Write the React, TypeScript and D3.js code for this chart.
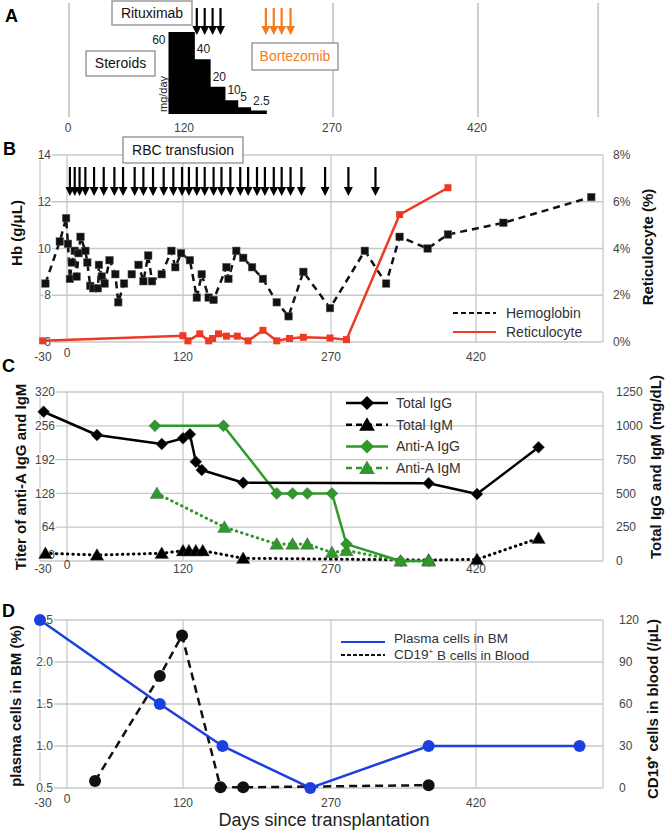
import React, { useEffect, useRef } from 'react';
import * as d3 from 'd3';

const FONT = 'Liberation Sans, Arial, Helvetica, sans-serif';
const GRID = '#c8c8c8';
const GREEN = '#2e9a2a';
const RED = '#ee3a24';
const BLUE = '#1c3fe0';
const ORANGE = '#f47b20';

// shared day axis
const dayTicks = [-30, 0, 120, 270, 420];
const dayGrid = [0, 120, 270, 420];

// A: treatment
const steroidStart = [105, 132, 148, 163, 176, 189];
const steroidEnd = 205;
const steroidDose = [60, 40, 20, 10, 5, 2.5];
const rituximabDays = [134, 142, 150, 158];
const bortezomibDays = [204, 212, 220, 229];

// B: Hb and reticulocytes
const rbcDays = [3, 8, 13, 19, 28, 38, 49, 58, 70, 79, 89, 100, 110, 119, 126, 134, 142, 151, 159, 168, 178, 186, 195, 203, 212, 220, 229, 240, 264, 288, 316];
const hbDays = [-24, -8, -1, 1, 3, 5, 8, 10, 12, 14, 19, 21, 24, 27, 32, 33, 36, 39, 44, 50, 53, 59, 67, 74, 79, 84, 88, 98, 108, 112, 118, 127, 134, 139, 146, 151, 164, 166, 174, 181, 190, 201, 215, 227, 242, 269, 305, 327, 341, 370, 391, 448, 538];
const hbValues = [8.5, 10.3, 11.3, 10.2, 8.7, 9.4, 9.9, 8.8, 9.8, 10.5, 9.9, 9.4, 8.4, 8.3, 8.3, 9.3, 8.8, 8.5, 9.5, 8.9, 7.7, 8.5, 8.9, 9.3, 8.6, 9.7, 8.6, 8.9, 9.9, 9.2, 9.8, 9.5, 7.9, 8.9, 7.9, 7.8, 9.2, 8.7, 9.9, 9.6, 9.2, 8.7, 7.7, 7.1, 9.0, 7.45, 9.9, 8.5, 10.5, 10.0, 10.6, 11.1, 12.2];
const retDays = [-27, 120, 125, 137, 146, 150, 156, 164, 175, 186, 201, 215, 228, 242, 269, 286, 341, 391];
const retValues = [0.05, 0.27, 0.05, 0.35, 0.05, 0.15, 0.35, 0.25, 0.25, 0.05, 0.5, 0.05, 0.15, 0.2, 0.17, 0.1, 5.45, 6.6];
const hbTicks = [6, 8, 10, 12, 14];
const retTicks = [0, 2, 4, 6, 8];

// C: antibodies
const igGDays = [-26, 31, 98, 120, 127, 133, 139, 181, 371, 421, 484];
const igGValues = [1104, 932, 865, 907, 937, 734, 673, 579, 575, 495, 841];
const igMDays = [-24, 31, 98, 120, 126, 133, 140, 181, 371, 421, 484];
const igMValues = [57, 44, 57, 76, 76, 76, 76, 20, 7, 12, 168];
const antiAIgGDays = [91, 161, 215, 231, 246, 271, 286, 342, 371];
const antiAIgGValues = [256, 256, 128, 128, 128, 128, 32, 0, 0];
const antiAIgMDays = [93, 162, 215, 231, 246, 271, 286, 342, 371];
const antiAIgMValues = [128, 64, 32, 32, 32, 16, 20, 0, 0];
const titerTicks = [0, 64, 128, 192, 256, 320];
const mgTicks = [0, 250, 500, 750, 1000, 1250];

// D: plasma cells / CD19
const plasmaDays = [-30, 96, 160, 249, 371, 526];
const plasmaValues = [2.5, 1.5, 1.0, 0.5, 1.0, 1.0];
const cd19Days = [29, 96, 119, 158, 181, 371];
const cd19Values = [5, 80, 109, 0.5, 0.5, 2];
const pcTicks = [0.5, 1.0, 1.5, 2.0, 2.5];
const cdTicks = [0, 30, 60, 90, 120];

const zip = (xs: number[], ys: number[]) => xs.map((d, i) => [d, ys[i]] as [number, number]);

export default function App() {
  const ref = useRef<SVGSVGElement>(null);

  useEffect(() => {
    const svg = d3.select(ref.current);
    svg.selectAll('*').remove();
    svg.attr('font-family', FONT);

    const x = d3.scaleLinear().domain([-30, 0, 120, 270, 420, 550]).range([40, 67, 183, 331, 476, 603]);
    const xL = x(-30), xR = x(550);

    const arrow = (g: any, cx: number, y1: number, y2: number, color: string) => {
      g.append('line').attr('x1', cx).attr('x2', cx).attr('y1', y1).attr('y2', y2 - 7)
        .attr('stroke', color).attr('stroke-width', 2.2);
      g.append('path').attr('d', `M${cx - 4.5},${y2 - 9}L${cx + 4.5},${y2 - 9}L${cx},${y2}Z`).attr('fill', color);
    };

    const box = (g: any, bx: number, by: number, bw: number, bh: number, label: string, color = '#111') => {
      g.append('rect').attr('x', bx).attr('y', by).attr('width', bw).attr('height', bh)
        .attr('fill', '#fff').attr('stroke', '#8c8c8c').attr('stroke-width', 1.3);
      g.append('text').attr('x', bx + bw / 2).attr('y', by + bh / 2).attr('dy', '0.35em')
        .attr('text-anchor', 'middle').attr('font-size', 14).attr('fill', color).text(label);
    };

    const frame = (g: any, yS: any, ticks: number[]) => {
      const [yb, yt] = yS.range();
      ticks.forEach(t => g.append('line').attr('x1', xL).attr('x2', xR).attr('y1', yS(t)).attr('y2', yS(t))
        .attr('stroke', GRID).attr('stroke-width', 1.3));
      [-30, ...dayGrid, 550].forEach(d => g.append('line').attr('x1', x(d)).attr('x2', x(d)).attr('y1', yt).attr('y2', yb)
        .attr('stroke', GRID).attr('stroke-width', 1.3));
    };

    const leftTicks = (g: any, yS: any, ticks: number[], fmt: (v: number) => string, xa = 53) => {
      g.selectAll(null).data(ticks).enter().append('text')
        .attr('x', xa).attr('y', (d: number) => yS(d)).attr('dy', '0.35em').attr('text-anchor', 'end')
        .attr('font-size', 12).attr('fill', '#444')
        .attr('stroke', '#fff').attr('stroke-width', 3).attr('paint-order', 'stroke')
        .text(fmt);
    };

    const rightTicks = (g: any, yS: any, ticks: number[], fmt: (v: number) => string, xa: number) => {
      g.selectAll(null).data(ticks).enter().append('text')
        .attr('x', xa).attr('y', (d: number) => yS(d)).attr('dy', '0.35em')
        .attr('font-size', 12).attr('fill', '#444').text(fmt);
    };

    const dayLabels = (g: any, yBase: number) => {
      g.selectAll(null).data(dayTicks).enter().append('text')
        .attr('x', (d: number) => x(d) + (d === -30 ? 3 : 0))
        .attr('y', (d: number) => yBase - (d === 0 ? 4 : 0))
        .attr('text-anchor', 'middle').attr('font-size', 12).attr('fill', '#444')
        .text((d: number) => d);
    };

    const vTitle = (g: any, cx: number, cy: number, label: string) => {
      g.append('text').attr('transform', `translate(${cx},${cy}) rotate(-90)`).attr('dy', '0.35em')
        .attr('text-anchor', 'middle').attr('font-size', 15).attr('font-weight', 'bold').attr('fill', '#111').text(label);
    };

    const panelLetter = (lx: number, ly: number, label: string) => {
      svg.append('text').attr('x', lx).attr('y', ly).attr('font-size', 18).attr('font-weight', 'bold').text(label);
    };

    const diamond = (r: number) => `M0,${-r}L${r},0L0,${r}L${-r},0Z`;
    const triangle = (r: number) => `M0,${-r}L${r * 1.05},${r * 0.8}L${-r * 1.05},${r * 0.8}Z`;

    // ---------- A ----------
    const gA = svg.append('g');
    [0, 270, 420, 543].forEach(d => gA.append('line').attr('x1', x(d) + 2).attr('x2', x(d) + 2).attr('y1', 3).attr('y2', 117)
      .attr('stroke', GRID).attr('stroke-width', 1.8));
    gA.selectAll(null).data([0, 120, 270, 420]).enter().append('text')
      .attr('x', (d: number) => x(d) + 1).attr('y', 132).attr('text-anchor', 'middle')
      .attr('font-size', 12).attr('fill', '#444').text((d: number) => d);

    const yS = d3.scaleLinear().domain([0, 60]).range([114, 32]);
    const steroid = steroidStart.map((d, i) => ({ day: d, dose: steroidDose[i] }));
    steroid.push({ day: steroidEnd, dose: steroidDose[steroidDose.length - 1] });
    const stepArea = d3.area<{ day: number; dose: number }>().curve(d3.curveStepAfter)
      .x(d => x(d.day)).y0(yS(0)).y1(d => yS(d.dose));
    gA.append('path').attr('d', stepArea(steroid)).attr('fill', '#000');
    steroidDose.forEach((d, i) => {
      const first = i === 0;
      gA.append('text')
        .attr('x', first ? x(steroidStart[i]) - 3 : x(steroidStart[i]) + 2)
        .attr('y', first ? yS(d) + 12 : yS(d) - 6)
        .attr('text-anchor', first ? 'end' : 'start')
        .attr('font-size', 12).attr('fill', '#222').text(d);
    });
    gA.append('text').attr('transform', `translate(167,94) rotate(-90)`).attr('text-anchor', 'middle')
      .attr('font-size', 11).attr('fill', '#222').text('mg/day');

    box(gA, 112, 1, 80, 24, 'Rituximab');
    box(gA, 86, 51, 69, 25, 'Steroids');
    box(gA, 252, 43, 86, 27, 'Bortezomib', ORANGE);
    rituximabDays.forEach(d => arrow(gA, x(d), 8, 35, '#000'));
    bortezomibDays.forEach(d => arrow(gA, x(d), 8, 35, ORANGE));
    panelLetter(5, 22, 'A');

    // ---------- B ----------
    const gB = svg.append('g');
    const yHb = d3.scaleLinear().domain([6, 14]).range([342, 155]);
    const yRet = d3.scaleLinear().domain([0, 8]).range([342, 155]);
    frame(gB, yHb, hbTicks);
    leftTicks(gB, yHb, hbTicks, v => String(v), 51);
    rightTicks(gB, yRet, retTicks, v => `${v}%`, 613);
    dayLabels(gB, 361);
    box(gB, 123, 137, 120, 26, 'RBC transfusion');
    rbcDays.forEach(d => arrow(gB, x(d), 167, 196, '#000'));

    const hb = zip(hbDays, hbValues);
    gB.append('path').attr('d', d3.line().x(d => x(d[0])).y(d => yHb(d[1]))(hb))
      .attr('fill', 'none').attr('stroke', '#111').attr('stroke-width', 2.5).attr('stroke-dasharray', '7,5');
    gB.selectAll(null).data(hb).enter().append('rect')
      .attr('x', d => x(d[0]) - 3.8).attr('y', d => yHb(d[1]) - 3.8).attr('width', 7.6).attr('height', 7.6)
      .attr('fill', '#111').attr('stroke', '#666').attr('stroke-width', 0.5);

    const ret = zip(retDays, retValues);
    gB.append('path').attr('d', d3.line().x(d => x(d[0])).y(d => yRet(d[1]))(ret))
      .attr('fill', 'none').attr('stroke', RED).attr('stroke-width', 2.5);
    gB.selectAll(null).data(ret).enter().append('rect')
      .attr('x', d => x(d[0]) - 3.5).attr('y', d => yRet(d[1]) - 3.5).attr('width', 7).attr('height', 7)
      .attr('fill', RED);

    gB.append('line').attr('x1', 453).attr('x2', 496).attr('y1', 313).attr('y2', 313)
      .attr('stroke', '#111').attr('stroke-width', 2).attr('stroke-dasharray', '5,3');
    gB.append('text').attr('x', 506).attr('y', 313).attr('dy', '0.35em').attr('font-size', 14).attr('fill', '#333').text('Hemoglobin');
    gB.append('line').attr('x1', 453).attr('x2', 496).attr('y1', 332).attr('y2', 332)
      .attr('stroke', RED).attr('stroke-width', 2);
    gB.append('text').attr('x', 506).attr('y', 332).attr('dy', '0.35em').attr('font-size', 14).attr('fill', '#333').text('Reticulocyte');
    vTitle(gB, 17, 233, 'Hb (g/μL)');
    vTitle(gB, 648, 247, 'Reticulocyte (%)');
    panelLetter(3, 155, 'B');

    // ---------- C ----------
    const gC = svg.append('g');
    const yT = d3.scaleLinear().domain([0, 320]).range([561, 392]);
    const yMg = d3.scaleLinear().domain([0, 1250]).range([561, 392]);
    frame(gC, yT, titerTicks);
    leftTicks(gC, yT, titerTicks.filter(v => v > 0), v => String(v), 55);
    gC.append('text').attr('x', 55).attr('y', yT(0) - 6).attr('dy', '0.35em').attr('text-anchor', 'end')
      .attr('font-size', 12).attr('fill', '#444').text('0');
    rightTicks(gC, yMg, mgTicks, v => String(v), 616);
    dayLabels(gC, 573);

    const series = (g: any, data: [number, number][], yScale: any, color: string, dash: string | null, shape: string) => {
      const p = g.append('path').attr('d', d3.line().x(d => x(d[0])).y(d => yScale(d[1]))(data))
        .attr('fill', 'none').attr('stroke', color).attr('stroke-width', dash ? 3 : 2.5)
        .attr('stroke-linecap', 'round').attr('stroke-linejoin', 'round');
      if (dash) p.attr('stroke-dasharray', dash);
      g.selectAll(null).data(data).enter().append('path')
        .attr('transform', (d: [number, number]) => `translate(${x(d[0])},${yScale(d[1])})`)
        .attr('d', shape).attr('fill', color).attr('stroke', '#555').attr('stroke-width', 0.4);
    };
    series(gC, zip(igMDays, igMValues), yMg, '#000', '0.5,5', triangle(6.5));
    series(gC, zip(antiAIgMDays, antiAIgMValues), yT, GREEN, '0.5,5', triangle(6.5));
    series(gC, zip(antiAIgGDays, antiAIgGValues), yT, GREEN, null, diamond(6));
    series(gC, zip(igGDays, igGValues), yMg, '#000', null, diamond(6));

    const legC: [string, string, boolean, string][] = [
      ['Total IgG', '#000', false, diamond(7)],
      ['Total IgM', '#000', true, triangle(7.5)],
      ['Anti-A IgG', GREEN, false, diamond(7)],
      ['Anti-A IgM', GREEN, true, triangle(7.5)],
    ];
    legC.forEach(([label, color, dashed, shape], i) => {
      const ly = 403 + i * 21.7;
      const ln = gC.append('line').attr('x1', 346).attr('x2', 388).attr('y1', ly).attr('y2', ly)
        .attr('stroke', color).attr('stroke-width', 2.5);
      if (dashed) ln.attr('stroke-dasharray', '6,4');
      gC.append('path').attr('transform', `translate(367,${ly})`).attr('d', shape).attr('fill', color);
      gC.append('text').attr('x', 396).attr('y', ly).attr('dy', '0.35em').attr('font-size', 14).attr('fill', '#333').text(label);
    });
    vTitle(gC, 21, 477, 'Titer of anti-A IgG and IgM');
    vTitle(gC, 656, 467, 'Total IgG and IgM (mg/dL)');
    panelLetter(2, 372, 'C');

    // ---------- D ----------
    const gD = svg.append('g');
    const yPc = d3.scaleLinear().domain([0.5, 2.5]).range([788, 620]);
    const yCd = d3.scaleLinear().domain([0, 120]).range([788, 620]);
    frame(gD, yPc, pcTicks);
    leftTicks(gD, yPc, pcTicks, v => v.toFixed(1), 53);
    rightTicks(gD, yCd, cdTicks, v => String(v), 619);
    dayLabels(gD, 807);

    const cd = zip(cd19Days, cd19Values);
    gD.append('path').attr('d', d3.line().x(d => x(d[0])).y(d => yCd(d[1]))(cd))
      .attr('fill', 'none').attr('stroke', '#111').attr('stroke-width', 2.5).attr('stroke-dasharray', '8,5');
    gD.selectAll(null).data(cd).enter().append('circle')
      .attr('cx', d => x(d[0])).attr('cy', d => yCd(d[1])).attr('r', 6).attr('fill', '#111');

    const pc = zip(plasmaDays, plasmaValues);
    gD.append('path').attr('d', d3.line().x(d => x(d[0])).y(d => yPc(d[1]))(pc))
      .attr('fill', 'none').attr('stroke', BLUE).attr('stroke-width', 2.5);
    gD.selectAll(null).data(pc).enter().append('circle')
      .attr('cx', d => x(d[0])).attr('cy', d => yPc(d[1])).attr('r', 6).attr('fill', BLUE);

    gD.append('line').attr('x1', 341).attr('x2', 385).attr('y1', 642).attr('y2', 642)
      .attr('stroke', BLUE).attr('stroke-width', 2);
    gD.append('text').attr('x', 394).attr('y', 638).attr('dy', '0.35em').attr('font-size', 13.5).attr('fill', '#333').text('Plasma cells in BM');
    gD.append('line').attr('x1', 341).attr('x2', 385).attr('y1', 655).attr('y2', 655)
      .attr('stroke', '#111').attr('stroke-width', 2).attr('stroke-dasharray', '4,2');
    const t = gD.append('text').attr('x', 394).attr('y', 654).attr('dy', '0.35em').attr('font-size', 13.5).attr('fill', '#333');
    t.append('tspan').text('CD19');
    t.append('tspan').attr('font-size', 8).attr('dy', '-0.6em').text('+');
    t.append('tspan').attr('dy', '0.45em').text(' B cells in Blood');

    vTitle(gD, 16, 706, 'plasma cells in BM (%)');
    vTitle(gD, 653, 709, 'CD19⁺ cells in blood (/μL)');
    panelLetter(2, 617, 'D');

    svg.append('text').attr('x', 324).attr('y', 826).attr('text-anchor', 'middle')
      .attr('font-size', 18).attr('fill', '#222').text('Days since transplantation');
  }, []);

  return (
    <svg
      ref={ref}
      width={666}
      height={831}
      style={{ position: 'absolute', left: 0, top: 0, background: '#fff' }}
    />
  );
}
